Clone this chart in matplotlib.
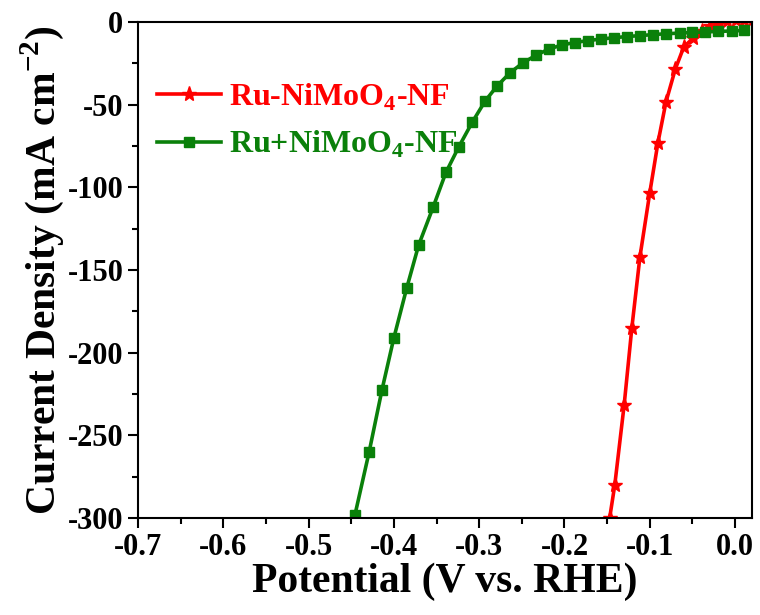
import matplotlib.pyplot as plt
from matplotlib.ticker import MultipleLocator

plt.rcParams['font.family'] = ['Liberation Serif', 'DejaVu Serif']
plt.rcParams['font.weight'] = 'bold'
plt.rcParams['mathtext.fontset'] = 'custom'
plt.rcParams['mathtext.rm'] = 'Liberation Serif:bold'
plt.rcParams['mathtext.bf'] = 'Liberation Serif:bold'

# Ru-NiMoO4-NF (red, stars)
v_red = [-0.147, -0.141, -0.130, -0.121, -0.1115, -0.100, -0.0904, -0.081,
         -0.070, -0.060, -0.049, -0.039, -0.029, -0.019, -0.009, 0.001, 0.011, 0.021]
j_red = [-300, -280, -231.6, -185, -142, -103.4, -73, -48.4,
         -28.4, -15, -9.7, -5.5, -2.5, -0.5, 0.5, 1.0, 1.5, 2.0]

# Ru+NiMoO4-NF (green, squares)
v_green = [-0.4456, -0.429, -0.414, -0.400, -0.385, -0.371, -0.354, -0.339,
           -0.324, -0.308, -0.293, -0.279, -0.264, -0.249, -0.233, -0.218,
           -0.203, -0.188, -0.172, -0.157, -0.142, -0.127, -0.111, -0.096,
           -0.081, -0.065, -0.050, -0.035, -0.020, -0.004, 0.011]
j_green = [-298, -260, -222.6, -191, -161, -135, -112, -91,
           -75.6, -60.5, -47.8, -38.7, -30.8, -24.8, -20, -16.3,
           -13.9, -12.4, -11.2, -10.3, -9.5, -8.8, -8.2, -7.6,
           -7.1, -6.7, -6.3, -6.0, -5.7, -5.4, -5.1]

fig = plt.figure(figsize=(7.6, 6.15), dpi=100)
ax = fig.add_axes([0.1816, 0.1577, 0.808, 0.8065])

ax.plot(v_red, j_red, color='#FF0000', lw=2.6, marker='*', ms=11,
        label='Ru-NiMoO$_4$-NF')
ax.plot(v_green, j_green, color='#0A800A', lw=2.6, marker='s', ms=7.5,
        label='Ru+NiMoO$_4$-NF')

ax.set_xlim(-0.7, 0.02)
ax.set_ylim(-300, 0)
ax.xaxis.set_minor_locator(MultipleLocator(0.05))
ax.yaxis.set_minor_locator(MultipleLocator(25))
ax.set_xticks([-0.7, -0.6, -0.5, -0.4, -0.3, -0.2, -0.1, 0.0])
ax.set_xticklabels(['-0.7', '-0.6', '-0.5', '-0.4', '-0.3', '-0.2', '-0.1', '0.0'])
ax.set_yticks([0, -50, -100, -150, -200, -250, -300])
ax.set_yticklabels(['0', '-50', '-100', '-150', '-200', '-250', '-300'])

ax.tick_params(which='major', direction='out', length=7, width=1.5, labelsize=22)
ax.tick_params(which='minor', direction='out', length=4, width=1.5)
for s in ax.spines.values():
    s.set_linewidth(1.5)

ax.set_xlabel('Potential (V vs. RHE)', fontsize=30, fontweight='bold', labelpad=1)
ax.set_ylabel('Current Density (mA cm$^{-2}$)', fontsize=30, fontweight='bold', labelpad=1)

leg = ax.legend(loc='upper left', bbox_to_anchor=(-0.005, 0.925), frameon=False,
                fontsize=23, handlelength=2.0, handletextpad=0.25, labelspacing=0.5,
                borderaxespad=0.3)
for t, line in zip(leg.get_texts(), leg.get_lines()):
    t.set_color(line.get_color())

fig.savefig('out.png', dpi=100)
